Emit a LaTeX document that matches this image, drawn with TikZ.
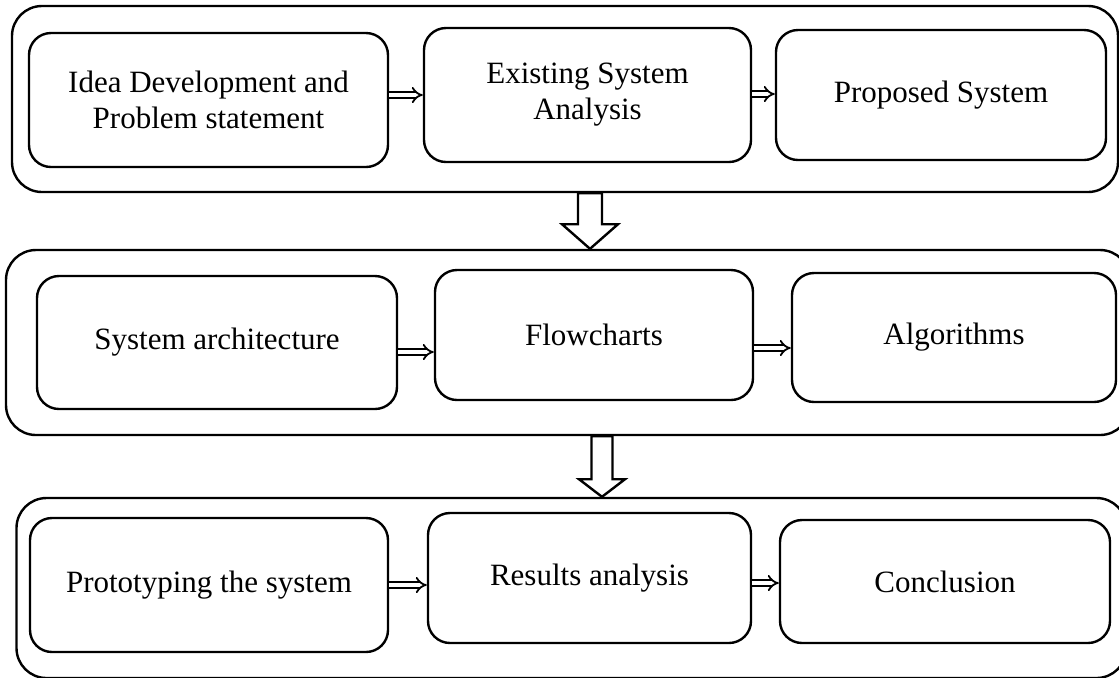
\documentclass[tikz,border=0pt]{standalone}
\usepackage{fontspec}
\setmainfont{Liberation Serif}
\usetikzlibrary{positioning,calc,arrows.meta}

\begin{document}
\begin{tikzpicture}[
x=0.5pt, y=-0.5pt,
box/.style={rectangle, draw, line width=1.2pt, rounded corners=11pt, align=center,
  inner sep=0pt, font=\fontsize{15.5}{18}\selectfont},
frame/.style={rectangle, draw, line width=1.2pt, rounded corners=15pt, inner sep=0pt},
implies/.style={double, line width=0.9pt, double distance=1.8pt, -{Implies}},
blockarrow/.style={draw, fill=white, line width=1.2pt, line join=miter}
]
\useasboundingbox (0,0) rectangle (1119,677);

% outer frames
\node[frame, minimum width=553pt, minimum height=93pt] (phase1) at (565,99) {};
\node[frame, minimum width=562pt, minimum height=92.5pt] (phase2) at (568,342.5) {};
\node[frame, minimum width=555pt, minimum height=90pt] (phase3) at (571.5,588) {};

% first row
\node[box, minimum width=179.5pt, minimum height=67pt] (idea) at (208.5,100) {Idea Development and\\Problem statement};
\node[box, minimum width=163.5pt, minimum height=67pt] (exist) at (587.5,95) {Existing System\\Analysis};
\node[box, minimum width=165pt, minimum height=65pt] (prop) at (941,95) {Proposed System};

% second row
\node[box, minimum width=180pt, minimum height=66.5pt] (arch) at (217,342.5) {System architecture};
\node[box, minimum width=159pt, minimum height=65pt] (flow) at (594,335) {Flowcharts};
\node[box, minimum width=162pt, minimum height=64.5pt] (algo) at (954,337.5) {Algorithms};

% third row
\node[box, minimum width=179pt, minimum height=67pt] (proto) at (209,585) {Prototyping the system};
\node[box, minimum width=161.5pt, minimum height=65pt] (result) at (589.5,578) {Results analysis};
\node[box, minimum width=165pt, minimum height=61.5pt] (concl) at (945,581.5) {Conclusion};

\draw[implies] ([yshift=2.5pt]idea.east) coordinate (i1) -- (i1 -| exist.west);
\draw[implies] ([yshift=0.5pt]exist.east) coordinate (i2) -- (i2 -| prop.west);
\draw[implies] ([yshift=-4.75pt]arch.east) coordinate (i3) -- (i3 -| flow.west);
\draw[implies] ([yshift=-6.5pt]flow.east) coordinate (i4) -- (i4 -| algo.west);
\draw[implies] (proto.east) coordinate (i5) -- (i5 -| result.west);
\draw[implies] ([yshift=-2.5pt]result.east) coordinate (i6) -- (i6 -| concl.west);

% block arrows between phases
\coordinate (b1) at ($(phase1.south)+(25,0)$);
\draw[blockarrow] ($(b1)+(-12,0)$) -- ($(b1)+(-12,31)$) -- ($(b1)+(-28,31)$)
  -- (b1 |- phase2.north) -- ($(b1)+(28,31)$) -- ($(b1)+(12,31)$) -- ($(b1)+(12,0)$) -- cycle;
\coordinate (b2) at ($(phase2.south)+(34,0)$);
\draw[blockarrow] ($(b2)+(-10.5,0)$) -- ($(b2)+(-10.5,43)$) -- ($(b2)+(-23,43)$)
  -- (b2 |- phase3.north) -- ($(b2)+(23,43)$) -- ($(b2)+(10.5,43)$) -- ($(b2)+(10.5,0)$) -- cycle;

\end{tikzpicture}
\end{document}
